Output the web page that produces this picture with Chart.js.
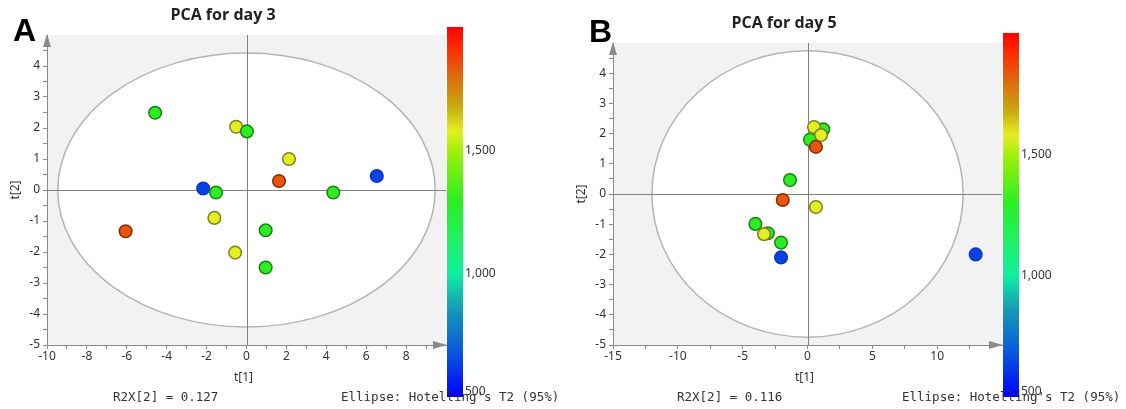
<!DOCTYPE html>
<html>
<head>
<meta charset="utf-8">
<title>PCA scores</title>
<script src="https://cdn.jsdelivr.net/npm/chart.js@4.4.1/dist/chart.umd.min.js"></script>
<style>
  html, body { margin: 0; padding: 0; background: #fff; }
  #wrap { position: relative; width: 1126px; height: 409px; overflow: hidden; }
  .panel { position: absolute; top: 0; width: 566px; height: 409px; }
  #panelA { left: 0; }
  #panelB { left: 560px; }
</style>
</head>
<body>
<div id="wrap">
  <div class="panel" id="panelA"><canvas id="chartA" width="566" height="409"></canvas></div>
  <div class="panel" id="panelB"><canvas id="chartB" width="566" height="409"></canvas></div>
</div>
<script>
// Scores on the first two components, one entry per sample
const day3T1 = [-4.58, -0.52, 0.02, -2.17, -1.53, 2.13, 1.63, 6.53, 4.35, -6.06, -1.61, -0.57, 0.96, 0.96];
const day3T2 = [2.49, 2.04, 1.89, 0.05, -0.08, 1.00, 0.29, 0.45, -0.08, -1.33, -0.90, -2.02, -1.30, -2.50];
const day3Level = [1300, 1580, 1300, 640, 1300, 1580, 1840, 640, 1300, 1840, 1580, 1580, 1300, 1300];

const day5T1 = [-1.35, 1.22, 0.19, 0.50, 1.04, 0.65, -1.91, 0.65, -4.02, -3.06, -3.35, -2.04, -2.04, 12.97];
const day5T2 = [0.46, 2.14, 1.80, 2.22, 1.95, 1.56, -0.20, -0.43, -0.99, -1.30, -1.33, -1.61, -2.10, -2.00];
const day5Level = [1300, 1300, 1300, 1580, 1580, 1840, 1840, 1580, 1300, 1300, 1580, 1300, 640, 640];

// Hotelling's T2 (95%) limits on t[1] / t[2]
const day3Limit = [9.46, 4.42];
const day5Limit = [12.0, 4.74];

const r2xDay3 = 0.127;
const r2xDay5 = 0.116;

// colour bar range and labelled ticks
const levelRange = [500, 2000];
const levelTicks = [500, 1000, 1500];

// rainbow scale used by the colour bar and the markers
const colourStops = [
  [500, '#0000ff'], [700, '#0a60d8'], [850, '#1596b8'], [1000, '#10eea0'],
  [1150, '#22f060'], [1300, '#2cee22'], [1480, '#96f00c'], [1580, '#e4ee24'],
  [1680, '#c8a810'], [1800, '#dd6a10'], [1920, '#ff2a00'], [2000, '#ff0000']
];

function hexToRgb(h) {
  return [parseInt(h.slice(1, 3), 16), parseInt(h.slice(3, 5), 16), parseInt(h.slice(5, 7), 16)];
}

function levelColour(v, shade) {
  let i = 0;
  while (i < colourStops.length - 2 && v > colourStops[i + 1][0]) i++;
  const [v0, c0] = colourStops[i];
  const [v1, c1] = colourStops[i + 1];
  const t = Math.max(0, Math.min(1, (v - v0) / (v1 - v0)));
  const a = hexToRgb(c0), b = hexToRgb(c1);
  const k = shade || 1;
  const rgb = a.map((x, j) => Math.round((x + (b[j] - x) * t) * k));
  return `rgb(${rgb[0]},${rgb[1]},${rgb[2]})`;
}

const tickFont = { family: 'Noto Sans', size: 12 };
const axisGrey = '#8a8a8a';

function buildScales(xMin, xMax, xStep, xLabelEvery, yAxisWidth) {
  return {
    x: {
      type: 'linear',
      min: xMin,
      max: xMax,
      afterFit: (s) => { s.height = 64; },
      ticks: {
        stepSize: xStep,
        autoSkip: false,
        maxRotation: 0,
        padding: 0,
        color: '#333',
        font: tickFont,
        callback: (v) => (v % xLabelEvery === 0 && v < xMax) ? String(v) : ''
      },
      grid: {
        drawOnChartArea: false,
        tickLength: 4,
        color: (c) => (c.tick && c.tick.value >= xMax) ? 'rgba(0,0,0,0)' : axisGrey
      },
      border: { display: true, color: axisGrey, width: 1 }
    },
    y: {
      type: 'linear',
      min: -5,
      max: 5,
      afterFit: (s) => { s.width = yAxisWidth; },
      ticks: {
        stepSize: 0.5,
        autoSkip: false,
        padding: 3,
        color: '#333',
        font: tickFont,
        callback: (v) => (Number.isInteger(v) && v < 5) ? String(v) : ''
      },
      grid: {
        drawOnChartArea: false,
        tickLength: 4,
        color: (c) => (c.tick && c.tick.value >= 5) ? 'rgba(0,0,0,0)' : axisGrey
      },
      border: { display: true, color: axisGrey, width: 1 }
    }
  };
}

// background, T2 ellipse, zero lines, arrows, titles, colour bar and notes
function panelPlugin(p) {
  return {
    id: 'panel' + p.letter,
    beforeDraw(chart) {
      const { ctx, chartArea: a, scales: { x, y } } = chart;
      ctx.save();
      ctx.fillStyle = '#f2f2f2';
      ctx.fillRect(a.left, a.top, a.right - a.left, a.bottom - a.top);
      const cx = x.getPixelForValue(0), cy = y.getPixelForValue(0);
      const rx = x.getPixelForValue(p.limit[0]) - cx;
      const ry = cy - y.getPixelForValue(p.limit[1]);
      ctx.beginPath();
      ctx.ellipse(cx, cy, rx, ry, 0, 0, Math.PI * 2);
      ctx.fillStyle = '#ffffff';
      ctx.fill();
      ctx.lineWidth = 1.5;
      ctx.strokeStyle = '#b4b4b4';
      ctx.stroke();
      ctx.restore();
    },
    beforeDatasetsDraw(chart) {
      const { ctx, chartArea: a, scales: { x, y } } = chart;
      const cx = Math.round(x.getPixelForValue(0)) + 0.5;
      const cy = Math.round(y.getPixelForValue(0)) + 0.5;
      ctx.save();
      ctx.strokeStyle = '#808080';
      ctx.lineWidth = 1;
      ctx.beginPath();
      ctx.moveTo(a.left, cy); ctx.lineTo(a.right, cy);
      ctx.moveTo(cx, a.top); ctx.lineTo(cx, a.bottom);
      ctx.stroke();

      // axis arrow heads
      ctx.fillStyle = '#8a8a8a';
      ctx.beginPath();
      ctx.moveTo(a.left, a.top - 1);
      ctx.lineTo(a.left - 4, a.top + 12);
      ctx.lineTo(a.left + 4, a.top + 12);
      ctx.closePath();
      ctx.fill();
      ctx.beginPath();
      ctx.moveTo(a.right + 1, a.bottom);
      ctx.lineTo(a.right - 13, a.bottom - 4);
      ctx.lineTo(a.right - 13, a.bottom + 4);
      ctx.closePath();
      ctx.fill();
      ctx.restore();
    },
    afterDraw(chart) {
      const { ctx, scales: { x, y } } = chart;
      ctx.save();

      // panel letter and title
      ctx.fillStyle = '#000';
      ctx.font = 'bold 32px "Liberation Sans", Arial, sans-serif';
      ctx.textAlign = 'left';
      ctx.textBaseline = 'alphabetic';
      ctx.fillText(p.letter, p.letterX, p.letterY);

      ctx.fillStyle = '#222';
      ctx.font = 'bold 16px "Open Sans", sans-serif';
      ctx.textAlign = 'center';
      ctx.textBaseline = 'middle';
      ctx.fillText(p.title, p.titleX, p.titleY);

      // axis titles
      ctx.font = '12px "Noto Sans", sans-serif';
      ctx.fillStyle = '#333';
      ctx.fillText('t[1]', x.getPixelForValue(0) - 3, 378);
      ctx.save();
      ctx.translate(p.yTitleX, y.getPixelForValue(0));
      ctx.rotate(-Math.PI / 2);
      ctx.fillText('t[2]', 0, 0);
      ctx.restore();

      // colour bar
      const bar = p.bar;
      const grad = ctx.createLinearGradient(0, bar.bottom, 0, bar.top);
      const span = levelRange[1] - levelRange[0];
      colourStops.forEach(([v, c]) => grad.addColorStop((v - levelRange[0]) / span, c));
      ctx.fillStyle = grad;
      ctx.fillRect(bar.left, bar.top, bar.width, bar.bottom - bar.top);

      ctx.fillStyle = '#333';
      ctx.font = '12px "Noto Sans", sans-serif';
      ctx.textAlign = 'left';
      levelTicks.forEach((v) => {
        const py = bar.bottom - (v - levelRange[0]) / span * (bar.bottom - bar.top);
        ctx.fillText(v.toLocaleString('en-US'), bar.left + bar.width + 2, py - (v === levelRange[0] ? 5 : 0));
      });

      // footnotes
      ctx.font = '12.5px "DejaVu Sans Mono", monospace';
      ctx.fillStyle = '#333';
      ctx.textBaseline = 'middle';
      ctx.fillText('R2X[2] = ' + p.r2x.toFixed(3), p.r2xX, 398);
      ctx.fillText("Ellipse: Hotelling's T2 (95%)", p.noteX, 398);
      ctx.restore();
    }
  };
}

function drawPanel(canvasId, t1, t2, level, p, scaleArgs, padding) {
  const points = t1.map((v, i) => ({ x: v, y: t2[i] }));
  new Chart(document.getElementById(canvasId).getContext('2d'), {
    type: 'scatter',
    data: {
      datasets: [{
        data: points,
        pointRadius: 6.3,
        pointHoverRadius: 6.3,
        pointBorderWidth: 1.5,
        pointBackgroundColor: level.map((v) => levelColour(v)),
        pointBorderColor: level.map((v) => levelColour(v, v < 800 ? 0.85 : 0.55))
      }]
    },
    options: {
      responsive: false,
      animation: false,
      events: [],
      layout: { padding },
      plugins: { legend: { display: false }, tooltip: { enabled: false } },
      scales: buildScales(...scaleArgs)
    },
    plugins: [panelPlugin(p)]
  });
}

drawPanel('chartA', day3T1, day3T2, day3Level, {
  letter: 'A', letterX: 13, letterY: 41,
  title: 'PCA for day 3', titleX: 223, titleY: 15,
  yTitleX: 16, limit: day3Limit, r2x: r2xDay3,
  r2xX: 113, noteX: 341,
  bar: { left: 447, top: 27, width: 16, bottom: 397 }
}, [-10, 10, 1, 2, 47], { left: 0, top: 35, right: 120, bottom: 0 });

drawPanel('chartB', day5T1, day5T2, day5Level, {
  letter: 'B', letterX: 29, letterY: 42,
  title: 'PCA for day 5', titleX: 224, titleY: 23,
  yTitleX: 22, limit: day5Limit, r2x: r2xDay5,
  r2xX: 117, noteX: 342,
  bar: { left: 443, top: 33, width: 16, bottom: 397 }
}, [-15, 15, 2.5, 5, 53], { left: 0, top: 43, right: 124, bottom: 0 });
</script>
</body>
</html>
